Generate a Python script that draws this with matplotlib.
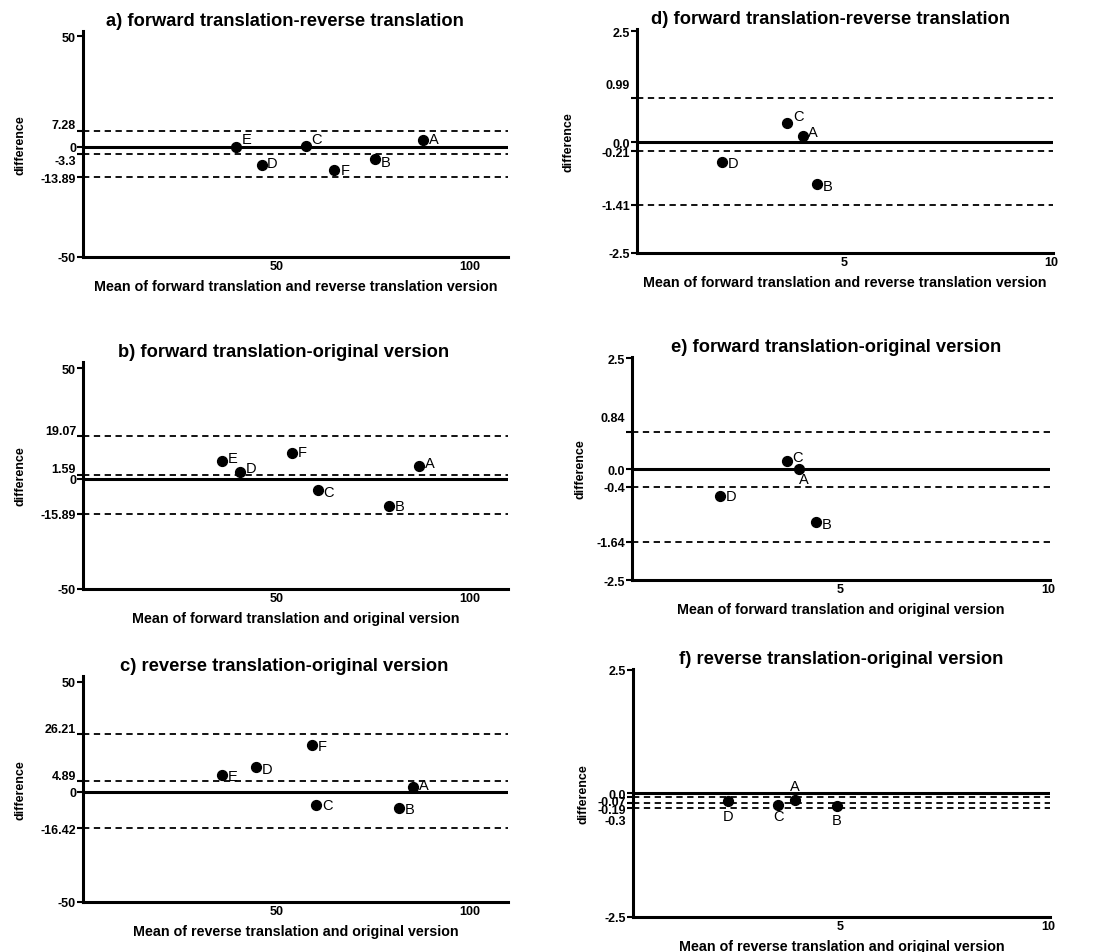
import matplotlib

matplotlib.use("Agg")
import matplotlib.pyplot as plt
from matplotlib.transforms import ScaledTranslation

plt.rcParams["font.family"] = ["Liberation Sans", "DejaVu Sans"]

# ---- data ----
LETTERS_6 = ["A", "B", "C", "D", "E", "F"]
LETTERS_4 = ["A", "B", "C", "D"]

a_x = [88.1, 75.6, 57.7, 46.2, 39.7, 64.9]
a_y = [3.0, -5.6, 0.45, -8.3, 0.0, -10.4]
a_lines = [-3.3, 7.28, -13.89]  # mean, upper, lower

b_x = [87.0, 79.2, 60.7, 40.7, 35.9, 54.1]
b_y = [5.6, -12.4, -5.3, 2.9, 7.9, 11.5]
b_lines = [1.59, 19.07, -15.89]

c_x = [85.5, 81.9, 60.4, 44.9, 35.9, 59.3]
c_y = [2.4, -7.1, -5.8, 11.2, 7.6, 21.4]
c_lines = [4.89, 26.21, -16.42]

d_x = [4.0, 4.35, 3.63, 2.06]
d_y = [0.14, -0.95, 0.44, -0.45]
d_lines = [-0.21, 0.99, -1.41]

e_x = [4.02, 4.42, 3.72, 2.11]
e_y = [0.0, -1.2, 0.19, -0.6]
e_lines = [-0.4, 0.84, -1.64]

f_x = [3.91, 4.91, 3.5, 2.3]
f_y = [-0.135, -0.256, -0.236, -0.155]
f_lines = [-0.19, -0.07, -0.3]

a_yticks = [-50, -13.89, -3.3, 0, 7.28, 50]
a_yticklabels = ["-50", "-13.89", "-3.3", "0", "7.28", "50"]
b_yticks = [-50, -15.89, 0, 1.59, 19.07, 50]
b_yticklabels = ["-50", "-15.89", "0", "1.59", "19.07", "50"]
c_yticks = [-50, -16.42, 0, 4.89, 26.21, 50]
c_yticklabels = ["-50", "-16.42", "0", "4.89", "26.21", "50"]
d_yticks = [-2.5, -1.41, -0.21, 0.0, 0.99, 2.5]
d_yticklabels = ["-2.5", "-1.41", "-0.21", "0.0", "0.99", "2.5"]
e_yticks = [-2.5, -1.64, -0.4, 0.0, 0.84, 2.5]
e_yticklabels = ["-2.5", "-1.64", "-0.4", "0.0", "0.84", "2.5"]
f_yticks = [-2.5, -0.3, -0.19, -0.07, 0.0, 2.5]
f_yticklabels = ["-2.5", "-0.3", "-0.19", "-0.07", "0.0", "2.5"]

big_xticks = [50, 100]
small_xticks = [5, 10]

titles = [
    "a) forward translation-reverse translation",
    "b) forward translation-original version",
    "c) reverse translation-original version",
    "d) forward translation-reverse translation",
    "e) forward translation-original version",
    "f) reverse translation-original version",
]
xlabels = [
    "Mean of forward translation and reverse translation version",
    "Mean of forward translation and original version",
    "Mean of reverse translation and original version",
    "Mean of forward translation and reverse translation version",
    "Mean of forward translation and original version",
    "Mean of reverse translation and original version",
]

# ---- layout / style ----
W, H = 1099, 953
# (left px, top px, right px, bottom px)
BOXES = [
    (83, 32, 508, 258),
    (83, 363, 508, 590),
    (83, 677, 508, 903),
    (637, 30, 1053, 254),
    (632, 358, 1050, 581),
    (633, 670, 1050, 918),
]
YLIMS = [(-50, 52.4), (-50, 52.8), (-50, 52.6), (-2.5, 2.55), (-2.5, 2.53), (-2.5, 2.52)]
XLIMS = [(0, 110)] * 3 + [(0, 10.05)] * 3
YLABEL_PAD = [10, 10, 10, 19, 7, 6]
TITLE_X = [0.475, 0.473, 0.473, 0.466, 0.488, 0.499]

# label offsets (points) and alignment for the letters, per panel
OFFS = [
    [(4, 1, "left"), (4, -2, "left"), (4, 5, "left"), (4, 1.5, "left"), (4, 5.5, "left"), (5, 0, "left")],
    [(4, 2, "left"), (4, 0, "left"), (4, -1, "left"), (4, 3, "left"), (4, 2, "left"), (4, 1, "left")],
    [(4, 1, "left"), (4, -1, "left"), (4, 0, "left"), (4, -1.5, "left"), (4, -0.5, "left"), (4, -1, "left")],
    [(4, 3, "left"), (4, -1, "left"), (4, 4.5, "left"), (4, -1, "left")],
    [(0, -7, "left"), (4, -1, "left"), (4, 3, "left"), (4, 0, "left")],
    [(0, 10, "center"), (0, -10, "center"), (0, -8, "center"), (0, -11, "center")],
]
# vertical shift (pixels) of tick labels, per panel, in tick order
TICK_SHIFT = [
    [0, 0, -6, 0, 7, 0],
    [0, 0, 0, 8, 7, 0],
    [0, 0, 0, 7, 7, 0],
    [0, 0, 0, 0, 15, 0],
    [0, 0, 0, 0, 15, 0],
    [0, -11, -6, -4, 0, 0],
]

panels = [
    (a_x, a_y, a_lines, a_yticks, a_yticklabels, big_xticks, LETTERS_6),
    (b_x, b_y, b_lines, b_yticks, b_yticklabels, big_xticks, LETTERS_6),
    (c_x, c_y, c_lines, c_yticks, c_yticklabels, big_xticks, LETTERS_6),
    (d_x, d_y, d_lines, d_yticks, d_yticklabels, small_xticks, LETTERS_4),
    (e_x, e_y, e_lines, e_yticks, e_yticklabels, small_xticks, LETTERS_4),
    (f_x, f_y, f_lines, f_yticks, f_yticklabels, small_xticks, LETTERS_4),
]

fig = plt.figure(figsize=(W / 100, H / 100), dpi=100)

for i, (xs, ys, lines, yt, ytl, xt, letters) in enumerate(panels):
    l, t, r, b = BOXES[i]
    ax = fig.add_axes([l / W, 1 - b / H, (r - l) / W, (b - t) / H])
    ax.set_xlim(*XLIMS[i])
    ax.set_ylim(*YLIMS[i])
    for s in ["top", "right"]:
        ax.spines[s].set_visible(False)
    for s in ["left", "bottom"]:
        ax.spines[s].set_linewidth(2.2)

    ax.axhline(0, color="black", lw=2.2, zorder=2)
    for v in lines:
        ax.axhline(v, color="black", lw=1.3, ls=(0, (3.5, 2.5)), zorder=2)

    ax.scatter(xs, ys, s=50, color="black", zorder=4, clip_on=False)
    for j, name in enumerate(letters):
        dx, dy, ha = OFFS[i][j]
        ax.annotate(
            name,
            (xs[j], ys[j]),
            xytext=(dx, dy),
            textcoords="offset points",
            ha=ha,
            va="center",
            fontsize=10.5,
        )

    ax.set_yticks(yt)
    ax.set_yticklabels(ytl)
    ax.set_xticks(xt)
    ax.tick_params(axis="y", direction="out", length=4, width=1.5, pad=1, labelsize=9)
    ax.tick_params(axis="x", direction="out", length=0, pad=2, labelsize=9)
    for lab in ax.get_yticklabels() + ax.get_xticklabels():
        lab.set_fontweight("bold")
    for lab, sh in zip(ax.get_yticklabels(), TICK_SHIFT[i]):
        lab.set_transform(lab.get_transform() + ScaledTranslation(0, sh / 100, fig.dpi_scale_trans))

    ax.set_title(titles[i], fontsize=13.2, fontweight="bold", pad=4, x=TITLE_X[i])
    ax.set_xlabel(xlabels[i], fontsize=10.3, fontweight="bold", labelpad=5)
    ax.set_ylabel("difference", fontsize=9, fontweight="bold", labelpad=YLABEL_PAD[i])

fig.savefig("out.png", dpi=100, facecolor="white")
